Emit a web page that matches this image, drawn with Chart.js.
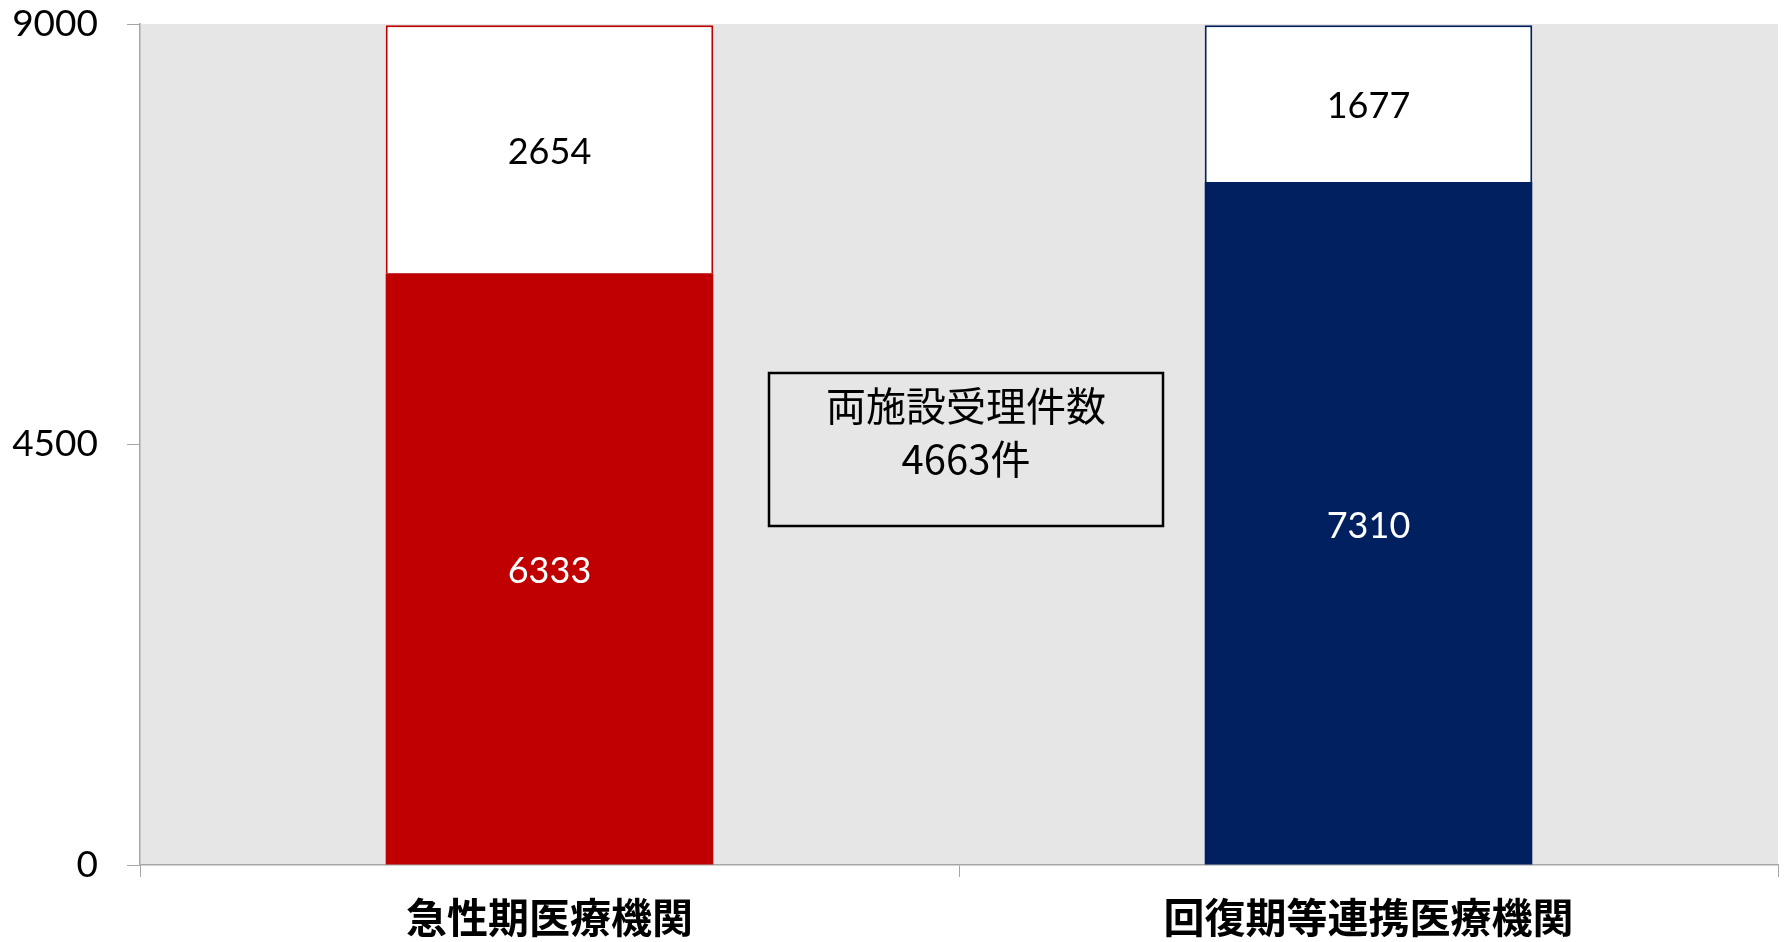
<!DOCTYPE html>
<html lang="ja">
<head>
<meta charset="utf-8">
<title>受理件数</title>
<script src="https://cdn.jsdelivr.net/npm/chart.js@4.4.1/dist/chart.umd.min.js"></script>
<style>
    html, body { margin: 0; padding: 0; background: #ffffff; }
    #chart { display: block; }
</style>
</head>
<body>
<canvas id="chart" width="1785" height="942"></canvas>
<script>
// Chart data
const categories = ['急性期医療機関', '回復期等連携医療機関'];
const lowerValues = [6333, 7310];
const upperValues = [2654, 1677];
const yTicks = [0, 4500, 9000];
const barColors = ['#C00000', '#002060'];
const boxLines = ['両施設受理件数', '4663件'];

const axisColor = '#A6A6A6';

// Grey plot background
const plotBackground = {
    id: 'plotBackground',
    beforeDraw(chart) {
        const { ctx, chartArea } = chart;
        ctx.save();
        ctx.fillStyle = '#E6E6E6';
        ctx.fillRect(chartArea.left, chartArea.top, chartArea.right - chartArea.left, chartArea.bottom - chartArea.top);
        ctx.restore();
    }
};

// Value labels in the middle of each segment
const segmentLabels = {
    id: 'segmentLabels',
    afterDatasetsDraw(chart) {
        const ctx = chart.ctx;
        ctx.save();
        ctx.font = '36px Lato';
        ctx.textAlign = 'center';
        ctx.textBaseline = 'middle';
        chart.data.datasets.forEach((ds, i) => {
            const meta = chart.getDatasetMeta(i);
            ctx.fillStyle = i === 0 ? '#ffffff' : '#000000';
            meta.data.forEach((bar, j) => {
                ctx.fillText(String(ds.data[j]), bar.x, (bar.y + bar.base) / 2 + 3);
            });
        });
        ctx.restore();
    }
};

// Text box between the bars
const totalBox = {
    id: 'totalBox',
    afterDraw(chart) {
        const { ctx, chartArea } = chart;
        const left = chartArea.left + 629;
        const top = chartArea.top + 349;
        const w = 394, h = 153;
        ctx.save();
        ctx.lineWidth = 2.5;
        ctx.strokeStyle = '#000000';
        ctx.strokeRect(left, top, w, h);
        ctx.fillStyle = '#000000';
        ctx.font = '40px "Noto Sans CJK JP"';
        ctx.textAlign = 'center';
        ctx.textBaseline = 'middle';
        ctx.fillText(boxLines[0], left + w / 2, top + 33);
        ctx.fillText(boxLines[1], left + w / 2, top + 86);
        ctx.restore();
    }
};

new Chart(document.getElementById('chart'), {
    type: 'bar',
    data: {
        labels: categories,
        datasets: [
            {
                data: lowerValues,
                backgroundColor: barColors,
                borderWidth: 0
            },
            {
                data: upperValues,
                backgroundColor: '#ffffff',
                borderColor: barColors,
                borderWidth: 2
            }
        ]
    },
    options: {
        responsive: false,
        animation: false,
        layout: {
            padding: { top: 0, right: 7, left: 0, bottom: 0 }
        },
        datasets: {
            bar: {
                barPercentage: 1,
                categoryPercentage: 0.4
            }
        },
        plugins: {
            legend: { display: false },
            tooltip: { enabled: false }
        },
        scales: {
            x: {
                stacked: true,
                afterFit: function (scale) { scale.height = 77; },
                grid: {
                    offset: true,
                    drawOnChartArea: false,
                    tickLength: 12,
                    color: axisColor
                },
                border: { color: axisColor, width: 1.5 },
                ticks: {
                    color: '#000000',
                    padding: 16,
                    font: { family: '"Noto Sans CJK JP"', size: 41, weight: 'bold' }
                }
            },
            y: {
                stacked: true,
                min: 0,
                max: 9000,
                afterFit: function (scale) {
                    scale.width = 140;
                    scale.paddingTop = 24;
                },
                afterBuildTicks: function (scale) {
                    scale.ticks = yTicks.map(v => ({ value: v }));
                },
                grid: {
                    drawOnChartArea: false,
                    tickLength: 13,
                    color: axisColor
                },
                border: { color: axisColor, width: 1.5 },
                ticks: {
                    color: '#000000',
                    padding: 29,
                    font: { family: 'Lato', size: 37 },
                    callback: function (value) { return String(value); }
                }
            }
        }
    },
    plugins: [plotBackground, segmentLabels, totalBox]
});
</script>
</body>
</html>
